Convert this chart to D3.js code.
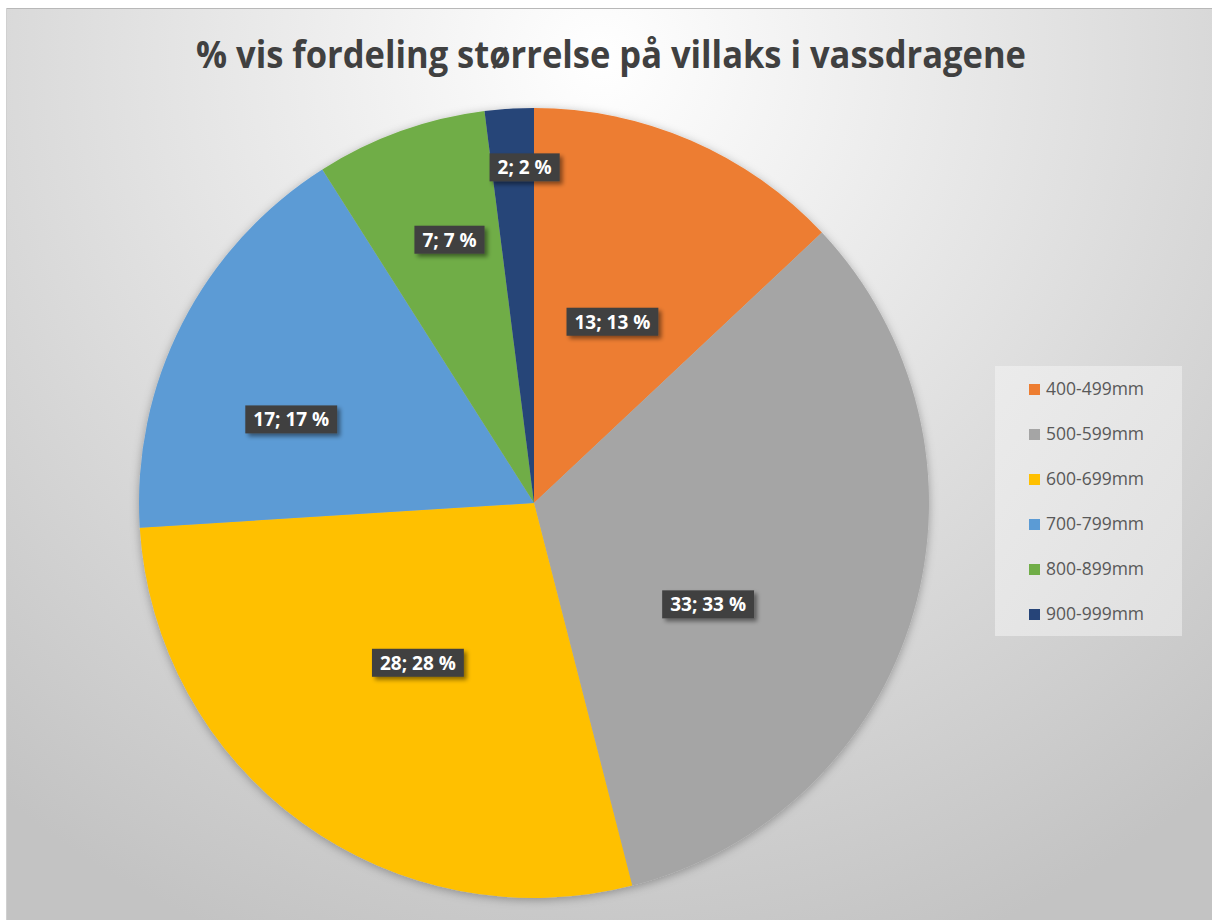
<!DOCTYPE html>
<html lang="no">
<head>
<meta charset="UTF-8" />
<title>% vis fordeling størrelse på villaks i vassdragene</title>
<script src="https://d3js.org/d3.v7.min.js"></script>
<style>
  body { margin: 0; padding: 0; background: #fff; }
  svg { display: block; }
</style>
</head>
<body>
<svg width="1212" height="920"></svg>
<script>
  const categories = ["400-499mm", "500-599mm", "600-699mm", "700-799mm", "800-899mm", "900-999mm"];
  const values = [13, 33, 28, 17, 7, 2];
  const percents = [13, 33, 28, 17, 7, 2];
  const colors = ["#ed7d31", "#a5a5a5", "#ffc000", "#5b9bd5", "#70ad47", "#264478"];
  // where Excel put each data label: fraction of radius, and turn from slice middle (degrees)
  const labelRadius = [0.5, 0.51, 0.5, 0.65, 0.7, 0.85];
  const labelTurn = [0, 14, 0, -8, 2, 2];

  const width = 1212, height = 920;
  const cx = 534, cy = 503, radius = 395;

  const svg = d3.select("svg");
  const defs = svg.append("defs");

  // background gradient
  const bg = defs.append("radialGradient")
    .attr("id", "bg")
    .attr("gradientUnits", "userSpaceOnUse")
    .attr("cx", 600).attr("cy", 60).attr("r", 950);
  bg.append("stop").attr("offset", "0%").attr("stop-color", "#ffffff");
  bg.append("stop").attr("offset", "100%").attr("stop-color", "#c3c3c3");

  const legGrad = defs.append("linearGradient")
    .attr("id", "leg").attr("x1", 0).attr("y1", 0).attr("x2", 1).attr("y2", 1);
  legGrad.append("stop").attr("offset", "0%").attr("stop-color", "#ebebeb");
  legGrad.append("stop").attr("offset", "100%").attr("stop-color", "#e0e0e0");

  const pieShadow = defs.append("filter").attr("id", "pieShadow")
    .attr("x", "-10%").attr("y", "-10%").attr("width", "120%").attr("height", "120%");
  pieShadow.append("feDropShadow").attr("dx", 0).attr("dy", 2)
    .attr("stdDeviation", 5).attr("flood-color", "#000").attr("flood-opacity", 0.3);

  const boxShadow = defs.append("filter").attr("id", "boxShadow")
    .attr("x", "-20%").attr("y", "-30%").attr("width", "150%").attr("height", "180%");
  boxShadow.append("feDropShadow").attr("dx", 3).attr("dy", 3)
    .attr("stdDeviation", 2).attr("flood-color", "#000").attr("flood-opacity", 0.45);

  // chart area
  svg.append("rect")
    .attr("x", 6).attr("y", 8).attr("width", width - 6).attr("height", height - 8)
    .attr("fill", "url(#bg)");
  svg.append("line")
    .attr("x1", 6).attr("x2", width).attr("y1", 8.5).attr("y2", 8.5)
    .attr("stroke", "#b8b8b8").attr("stroke-width", 1);
  svg.append("line")
    .attr("x1", 6.5).attr("x2", 6.5).attr("y1", 8).attr("y2", height)
    .attr("stroke", "#d0d0d0").attr("stroke-width", 1);

  // title
  svg.append("text")
    .attr("x", 611).attr("y", 68)
    .attr("text-anchor", "middle")
    .attr("font-family", "'Open Sans', sans-serif")
    .attr("font-weight", "bold")
    .attr("font-size", 37)
    .attr("fill", "#404040")
    .attr("textLength", 830)
    .attr("lengthAdjust", "spacingAndGlyphs")
    .text("% vis fordeling størrelse på villaks i vassdragene");

  // pie
  const pie = d3.pie().sort(null).value(d => d)(values);
  const arc = d3.arc().innerRadius(0).outerRadius(radius);

  const g = svg.append("g").attr("transform", `translate(${cx},${cy})`);

  g.append("g").attr("filter", "url(#pieShadow)")
    .selectAll("path")
    .data(pie)
    .enter()
    .append("path")
    .attr("d", arc)
    .attr("fill", (d, i) => colors[i]);

  // data labels
  const labels = g.append("g").selectAll("g")
    .data(pie)
    .enter()
    .append("g")
    .attr("transform", (d, i) => {
      const a = (d.startAngle + d.endAngle) / 2 + labelTurn[i] * Math.PI / 180;
      const r = radius * labelRadius[i];
      return `translate(${r * Math.sin(a)},${-r * Math.cos(a)})`;
    });

  labels.each(function (d, i) {
    const lg = d3.select(this);
    const rect = lg.append("rect").attr("fill", "#404040").attr("filter", "url(#boxShadow)");
    const t = lg.append("text")
      .attr("text-anchor", "middle")
      .attr("dy", "0.36em")
      .attr("font-family", "'Open Sans', sans-serif")
      .attr("font-weight", "bold")
      .attr("font-size", 19)
      .attr("fill", "#ffffff")
      .text(`${values[i]}; ${percents[i]} %`);
    const w = t.node().getComputedTextLength() + 16;
    rect.attr("x", -w / 2).attr("y", -14).attr("width", w).attr("height", 28);
  });

  // legend
  const legX = 995, legY = 366;
  svg.append("rect")
    .attr("x", legX).attr("y", legY).attr("width", 187).attr("height", 270)
    .attr("fill", "url(#leg)");

  const legend = svg.append("g").selectAll("g")
    .data(categories)
    .enter()
    .append("g")
    .attr("transform", (d, i) => `translate(${legX + 34},${legY + 23 + i * 45})`);

  legend.append("rect")
    .attr("x", 0).attr("y", -5).attr("width", 11).attr("height", 11)
    .attr("fill", (d, i) => colors[i]);

  legend.append("text")
    .attr("x", 17).attr("dy", "0.36em")
    .attr("font-family", "'Open Sans', sans-serif")
    .attr("font-size", 17.5)
    .attr("fill", "#595959")
    .text(d => d);
</script>
</body>
</html>
